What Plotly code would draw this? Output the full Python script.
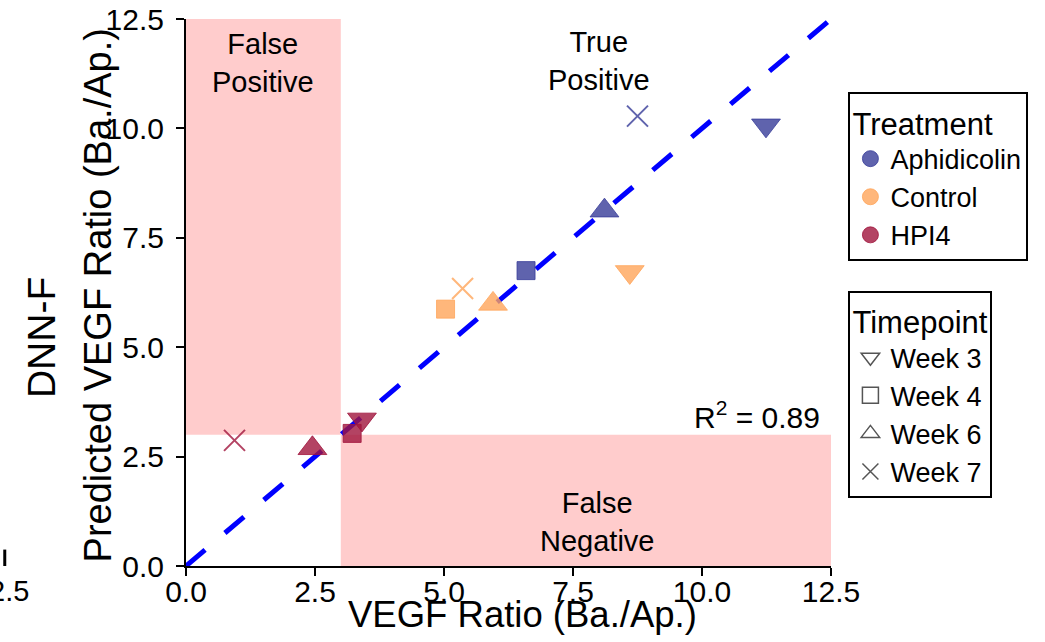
import plotly.graph_objects as go

# Observed vs. DNN-F predicted VEGF ratios, one point per treatment/timepoint
treatments = ["Aphidicolin", "Control", "HPI4"]
timepoints = ["Week 3", "Week 4", "Week 6", "Week 7"]

observed = {
    "Aphidicolin": [11.24, 6.59, 8.11, 8.75],
    "Control":     [8.60, 5.03, 5.95, 5.36],
    "HPI4":        [3.41, 3.22, 2.45, 0.94],
}
predicted = {
    "Aphidicolin": [10.07, 6.75, 8.12, 10.28],
    "Control":     [6.72, 5.87, 5.99, 6.34],
    "HPI4":        [3.35, 3.03, 2.69, 2.87],
}

r_squared = 0.89
threshold = 3.0
axis_max = 12.5
tick_values = [0.0, 2.5, 5.0, 7.5, 10.0, 12.5]

FONT = "Arial, Liberation Sans, sans-serif"

colors = {
    "Aphidicolin": "rgba(55,60,152,0.8)",
    "Control": "rgba(255,165,90,0.8)",
    "HPI4": "rgba(160,20,60,0.8)",
}
symbols = {
    "Week 3": ("triangle-down", 25),
    "Week 4": ("square", 18),
    "Week 6": ("triangle-up", 25),
    "Week 7": ("x-thin-open", 21),
}
legend_symbols = {
    "Week 3": "triangle-down-open",
    "Week 4": "square-open",
    "Week 6": "triangle-up-open",
    "Week 7": "x-thin-open",
}

fig = go.Figure()

# identity line
fig.add_trace(go.Scatter(
    x=[0, axis_max], y=[0, axis_max], mode="lines",
    line=dict(color="#0000ff", width=5, dash="25px,26px"),
    showlegend=False, hoverinfo="skip",
))

# data points
for t in treatments:
    for i, wk in enumerate(timepoints):
        sym, size = symbols[wk]
        is_x = sym.startswith("x")
        fig.add_trace(go.Scatter(
            x=[observed[t][i]], y=[predicted[t][i]], mode="markers",
            marker=dict(
                symbol=sym, size=size,
                color=colors[t],
                line=dict(color=colors[t], width=2 if is_x else 1),
            ),
            showlegend=False, name=f"{t} {wk}",
        ))

# treatment legend (colour)
for t in treatments:
    fig.add_trace(go.Scatter(
        x=[None], y=[None], mode="markers", name=t,
        marker=dict(symbol="circle", size=20, color=colors[t],
                    line=dict(color=colors[t], width=1)),
        legend="legend",
    ))

# timepoint legend (shape)
for wk in timepoints:
    fig.add_trace(go.Scatter(
        x=[None], y=[None], mode="markers", name=wk,
        marker=dict(symbol=legend_symbols[wk], size=20, color="#555555",
                    line=dict(color="#555555", width=1.5)),
        legend="legend2",
    ))

# false positive / false negative regions
pink = "#ffcccc"
fig.add_shape(type="rect", x0=0, x1=threshold, y0=threshold, y1=axis_max,
              fillcolor=pink, line_width=0, layer="below")
fig.add_shape(type="rect", x0=threshold, x1=axis_max, y0=0, y1=threshold,
              fillcolor=pink, line_width=0, layer="below")

region_font = dict(family=FONT, size=29, color="black")
fig.add_annotation(x=1.5, y=11.49, text="False<br>Positive", showarrow=False,
                   font=region_font)
fig.add_annotation(x=8.0, y=11.55, text="True<br>Positive", showarrow=False,
                   font=region_font)
fig.add_annotation(x=7.96, y=1.01, text="False<br>Negative", showarrow=False,
                   font=region_font)
fig.add_annotation(x=12.32, y=3.45, text=f"R<sup>2</sup> = {r_squared:.2f}",
                   showarrow=False, xanchor="right",
                   font=dict(family=FONT, size=30, color="black"))

# axis titles
fig.add_annotation(xref="paper", yref="paper", x=-0.2237, y=0.418,
                   xanchor="center", yanchor="middle",
                   text="DNN-F", textangle=-90, showarrow=False,
                   font=dict(family=FONT, size=39, color="black"))
fig.add_annotation(xref="paper", yref="paper", x=-0.137, y=0.494,
                   xanchor="center", yanchor="middle",
                   text="Predicted VEGF Ratio (Ba./Ap.)", textangle=-90,
                   showarrow=False,
                   font=dict(family=FONT, size=38, color="black"))
fig.add_annotation(xref="paper", yref="paper", x=0.521, y=-0.0885,
                   xanchor="center", yanchor="middle",
                   text="VEGF Ratio (Ba./Ap.)", showarrow=False,
                   font=dict(family=FONT, size=36.5, color="black"))

# tick label of a neighbouring panel at the left edge
fig.add_annotation(xref="paper", yref="paper", x=-0.2407, y=-0.0465,
                   xanchor="right", yanchor="middle", text="2.5",
                   showarrow=False,
                   font=dict(family=FONT, size=29, color="black"))
fig.add_shape(type="line", xref="paper", yref="paper",
              x0=-0.281, x1=-0.281, y0=0.0, y1=0.03,
              line=dict(color="black", width=3))

axis_common = dict(
    range=[0, axis_max], tickvals=tick_values,
    ticktext=[f"{v:.1f}" for v in tick_values],
    showgrid=False, zeroline=False,
    showline=True, linecolor="black", linewidth=2,
    ticks="outside", ticklen=8, tickwidth=2, tickcolor="black",
    tickfont=dict(family=FONT, size=30, color="black"),
)

fig.update_layout(
    width=1045, height=642,
    margin=dict(l=185.5, r=213.5, t=18.5, b=75.5, autoexpand=False),
    plot_bgcolor="white", paper_bgcolor="white",
    font=dict(family=FONT, color="black"),
    xaxis=dict(**axis_common, ticklabelstandoff=-10),
    yaxis=dict(**axis_common, ticklabelstandoff=6),
    legend=dict(
        title=dict(text="Treatment", font=dict(family=FONT, size=31)),
        font=dict(family=FONT, size=27, color="black"),
        x=1.027, y=0.866, xanchor="left", yanchor="top",
        bordercolor="black", borderwidth=2, bgcolor="white",
    ),
    legend2=dict(
        title=dict(text="Timepoint", font=dict(family=FONT, size=31)),
        font=dict(family=FONT, size=27, color="black"),
        x=1.027, y=0.503, xanchor="left", yanchor="top",
        bordercolor="black", borderwidth=2, bgcolor="white",
    ),
)

fig.write_html("out.html")
